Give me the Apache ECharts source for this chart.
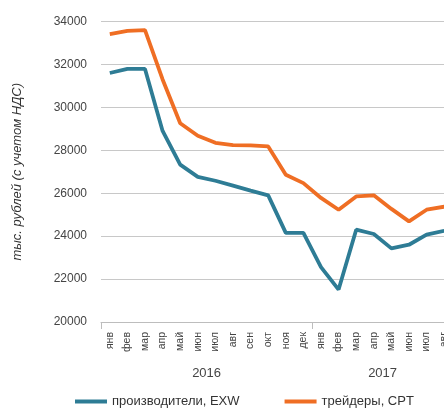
<!DOCTYPE html>
<html>
<head>
<meta charset="utf-8">
<script src="https://cdn.jsdelivr.net/npm/echarts@6/dist/echarts.min.js"></script>
<style>
html,body{margin:0;padding:0;background:#ffffff;}
#chart{width:444px;height:410px;}
</style>
</head>
<body>
<div id="chart"></div>
<script>
const months = ['янв','фев','мар','апр','май','июн','июл','авг','сен','окт','ноя','дек',
                'янв','фев','мар','апр','май','июн','июл','авг'];
const years = ['2016','2017'];
const yearCenters = [6, 16];
const yearBounds = [0, 12, 20];
const producersEXW = [31600, 31790, 31790, 28900, 27330, 26760, 26580, 26350, 26120, 25900,
                      24150, 24150, 22560, 21510, 24300, 24100, 23430, 23600, 24070, 24250];
const tradersCPT = [33410, 33560, 33600, 31300, 29260, 28680, 28350, 28240, 28230, 28180,
                    26860, 26470, 25780, 25230, 25850, 25900, 25270, 24690, 25230, 25370];
const seriesNames = ['производители, EXW', 'трейдеры, CPT'];
const yTitle = 'тыс. рублей (с учетом НДС)';

const FONT = 'Liberation Sans, Arial, sans-serif';
const chart = echarts.init(document.getElementById('chart'), null, {renderer: 'canvas'});
chart.setOption({
  animation: false,
  backgroundColor: '#ffffff',
  textStyle: {fontFamily: FONT},
  grid: {left: 101, top: 21.5, width: 352, height: 300.5, containLabel: false, outerBoundsMode: 'none'},
  legend: {
    left: 70, top: 390,
    icon: 'rect', itemWidth: 32, itemHeight: 4, itemGap: 45,
    textStyle: {fontFamily: FONT, fontSize: 13, color: '#333'},
    data: seriesNames
  },
  xAxis: [{
    type: 'category', data: months, boundaryGap: true,
    axisLine: {show: true, lineStyle: {color: '#bdbdbd', width: 1}},
    axisTick: {show: false},
    axisLabel: {rotate: 90, fontSize: 10.5, color: '#444', margin: 10, interval: 0, fontFamily: FONT}
  }, {
    type: 'value', min: 0, max: 20, position: 'bottom',
    axisLine: {show: false},
    splitLine: {show: false},
    axisTick: {show: true, customValues: yearBounds, length: 7, lineStyle: {color: '#bdbdbd'}},
    axisLabel: {customValues: yearCenters, margin: 45, fontSize: 13, color: '#444', fontFamily: FONT,
      formatter: v => years[yearCenters.indexOf(v)] || ''}
  }],
  yAxis: {
    type: 'value', min: 20000, max: 34000, interval: 2000,
    axisLine: {show: false}, axisTick: {show: false},
    splitLine: {lineStyle: {color: '#c8c8c8', width: 1.2}},
    axisLabel: {fontSize: 12, color: '#444', margin: 14, fontFamily: FONT, formatter: v => String(v)},
    name: yTitle, nameLocation: 'middle', nameRotate: 90, nameGap: 69,
    nameTextStyle: {fontStyle: 'italic', fontSize: 13, color: '#333', fontFamily: FONT, padding: [0, 0, 8, 0]}
  },
  series: [{
    name: seriesNames[0], type: 'line', xAxisIndex: 0, data: producersEXW,
    symbol: 'none', lineStyle: {width: 3.8, color: '#2e7c95'}, itemStyle: {color: '#2e7c95'}
  }, {
    name: seriesNames[1], type: 'line', xAxisIndex: 0, data: tradersCPT,
    symbol: 'none', lineStyle: {width: 3.8, color: '#ef6e24'}, itemStyle: {color: '#ef6e24'}
  }]
});
</script>
</body>
</html>
